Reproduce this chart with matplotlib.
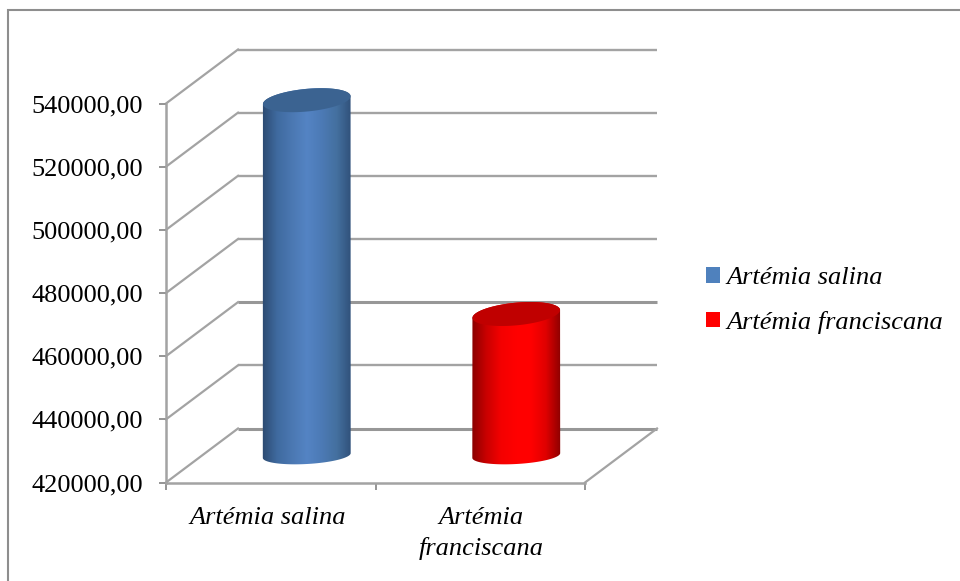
import numpy as np
import matplotlib
matplotlib.use('Agg')
import matplotlib.pyplot as plt
from matplotlib.colors import LinearSegmentedColormap
from matplotlib.lines import Line2D
from matplotlib.patches import PathPatch, Patch
from matplotlib.path import Path
from matplotlib.transforms import IdentityTransform

species = ['Artémia salina', 'Artémia franciscana']
axis_labels = ['Artémia salina', 'Artémia\nfranciscana']
values = [532500, 464800]
y_ticks = [420000, 440000, 460000, 480000, 500000, 520000, 540000]

side_colors = [['#2c4a70', '#3f6a9f', '#4b78b2', '#5484c4', '#4c7ab5', '#44709f', '#2f4f78'],
               ['#860000', '#c80000', '#f40000', '#ff0000', '#ff0000', '#e00000', '#8c0000']]
top_colors = ['#3b6391', '#c00000']
legend_colors = ['#4f81bd', '#ff0000']

GRID = '#a3a3a3'
W, H = 960, 581
# oblique depth of the box, in pixels
DEPTH_X, DEPTH_Y = 72, 54
# cylinder cross sections, in pixels; the base is seen flatter than the top
RX = 44
TOP_RY, TOP_TILT = 11.3, np.radians(5.5)
BASE_RY, BASE_TILT = 8.5, np.radians(3.2)

plt.rcParams['font.family'] = ['Liberation Serif']

fig = plt.figure(figsize=(W / 100, H / 100), dpi=100)
ax = fig.add_axes([166 / W, 1 - 482.5 / H, 419 / W, 379 / H])
ax.set_xlim(0, 2)
ax.set_ylim(y_ticks[0], y_ticks[-1])
ax.autoscale(False)
ax.patch.set_visible(False)

ax.spines['top'].set_visible(False)
ax.spines['right'].set_visible(False)
for side in ['left', 'bottom']:
    ax.spines[side].set_color(GRID)
    ax.spines[side].set_linewidth(1.8)

ax.set_yticks(y_ticks)
ax.set_yticklabels(['%d,00' % t for t in y_ticks], fontsize=19)
ax.set_xticks([0, 1, 2])
ax.set_xticklabels([])
ax.set_xticks([0.485, 1.505], minor=True)
ax.set_xticklabels(axis_labels, minor=True, fontsize=19, style='italic', linespacing=1.43)
ax.tick_params(axis='y', which='major', length=5, width=1.3, color='#8c8c8c', pad=11.7)
ax.tick_params(axis='x', which='major', length=5, width=1.3, color='#8c8c8c')
ax.tick_params(axis='x', which='minor', length=0, pad=17.5)

dx = DEPTH_X / 419 * 2
dy = DEPTH_Y / 379 * (y_ticks[-1] - y_ticks[0])

# back wall lines and their diagonals on the side wall
for t in y_ticks:
    heavy = t in (460000, 420000)
    ax.plot([dx, 2 + dx], [t + dy, t + dy], color='#979797' if heavy else GRID,
            lw=2.2 if heavy else 1.7, clip_on=False, zorder=1, solid_capstyle='butt')
    ax.plot([0, dx], [t, t + dy], color=GRID, lw=1.6, clip_on=False, zorder=1)
ax.plot([2, 2 + dx], [y_ticks[0], y_ticks[0] + dy], color=GRID, lw=1.6, clip_on=False, zorder=1)


def ellipse_arc(cx, cy, ry, tilt, start, stop, n=80):
    t = np.linspace(start, stop, n)
    x = cx + RX * np.cos(t) * np.cos(tilt) - ry * np.sin(t) * np.sin(tilt)
    y = cy + RX * np.cos(t) * np.sin(tilt) + ry * np.sin(t) * np.cos(tilt)
    return np.column_stack([x, y])


def edge_angle(ry, tilt):
    # angle of the rightmost point on a tilted cross section
    return np.arctan2(-ry * np.sin(tilt), RX * np.cos(tilt))


for i, v in enumerate(values):
    px, py_top = ax.transData.transform((i + 0.5, v))
    _, py_base = ax.transData.transform((i + 0.5, y_ticks[0]))
    cx = px + DEPTH_X / 2
    top_y = py_top + DEPTH_Y / 2
    base_y = py_base + DEPTH_Y / 2

    # body: silhouette between the two cross sections, shaded left to right
    t_base = edge_angle(BASE_RY, BASE_TILT)
    t_top = edge_angle(TOP_RY, TOP_TILT)
    lower = ellipse_arc(cx, base_y, BASE_RY, BASE_TILT, t_base - np.pi, t_base)
    upper = ellipse_arc(cx, top_y, TOP_RY, TOP_TILT, t_top, t_top + np.pi)
    outline = np.vstack([lower, upper, lower[:1]])
    body = PathPatch(Path(outline, closed=True), transform=IdentityTransform(),
                     facecolor='none', edgecolor='none')
    ax.add_patch(body)
    cmap = LinearSegmentedColormap.from_list('side', side_colors[i])
    x0 = ax.transData.inverted().transform((cx - RX - 1, 0))[0]
    x1 = ax.transData.inverted().transform((cx + RX + 1, 0))[0]
    im = ax.imshow(np.linspace(0, 1, 256).reshape(1, -1), cmap=cmap, aspect='auto',
                   extent=[x0, x1, y_ticks[0], y_ticks[-1] + dy], zorder=3,
                   interpolation='bilinear')
    im.set_clip_path(body)
    im.set_clip_box(fig.bbox)

    top = PathPatch(Path(ellipse_arc(cx, top_y, TOP_RY, TOP_TILT, 0, 2 * np.pi), closed=True),
                    transform=IdentityTransform(), facecolor=top_colors[i],
                    edgecolor='none', zorder=4, clip_on=False)
    ax.add_patch(top)

ax.set_xlim(0, 2)
ax.set_ylim(y_ticks[0], y_ticks[-1])

handles = [Patch(facecolor=c, edgecolor='none') for c in legend_colors]
fig.legend(handles, species, loc='center left', bbox_to_anchor=(706 / W, 1 - 300.5 / H),
           frameon=False, prop={'size': 19, 'style': 'italic'},
           handlelength=0.53, handleheight=0.53, handletextpad=0.25,
           labelspacing=0.83, borderaxespad=0, borderpad=0)

# chart area border, only the top and left edges show
fig.add_artist(Line2D([7.5 / W, 7.5 / W, 1], [0, 1 - 9.5 / H, 1 - 9.5 / H],
                      color='#8e8e8e', lw=1.5, solid_joinstyle='miter'))

fig.savefig('out.png', dpi=100)
